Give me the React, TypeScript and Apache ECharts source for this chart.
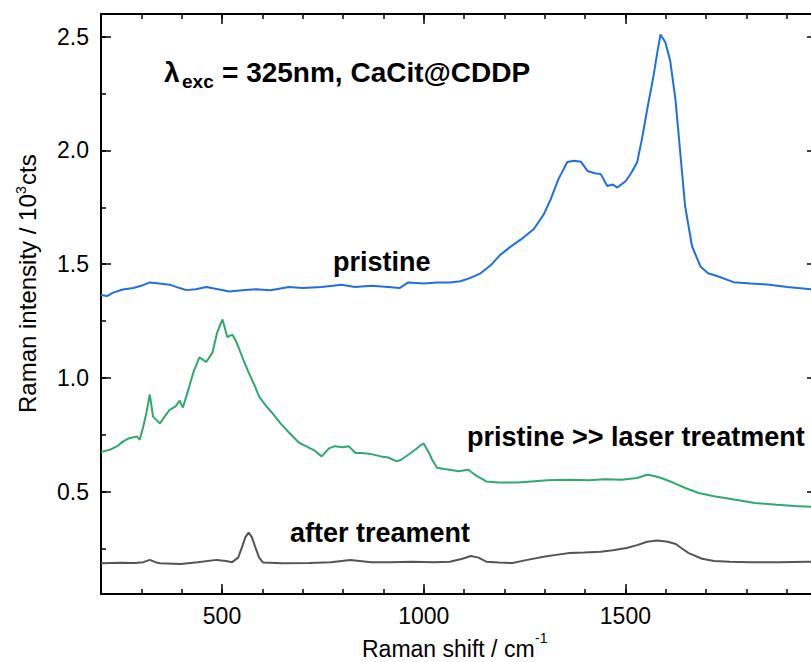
import React, { useEffect, useRef } from 'react';
import * as echarts from 'echarts';

// ---------- data ----------
const pristineX = [200, 215, 230, 254, 280, 300, 321, 345, 370, 395, 412, 435, 461, 490, 518, 550, 584, 620, 666, 700, 747, 775, 796, 830, 870, 912, 940, 962, 1000, 1033, 1065, 1091, 1116, 1141, 1166, 1189, 1214, 1242, 1273, 1298, 1315, 1334, 1356, 1373, 1390, 1406, 1424, 1439, 1455, 1469, 1480, 1501, 1514, 1529, 1541, 1554, 1570, 1579, 1587, 1599, 1611, 1624, 1636, 1648, 1665, 1686, 1705, 1727, 1768, 1811, 1852, 1901, 1962, 1975];
const pristineY = [1.365, 1.36, 1.375, 1.389, 1.395, 1.405, 1.42, 1.415, 1.41, 1.395, 1.386, 1.39, 1.4, 1.39, 1.38, 1.385, 1.39, 1.385, 1.4, 1.395, 1.4, 1.405, 1.41, 1.4, 1.405, 1.4, 1.395, 1.42, 1.415, 1.42, 1.42, 1.425, 1.44, 1.46, 1.495, 1.54, 1.575, 1.61, 1.655, 1.72, 1.786, 1.874, 1.949, 1.955, 1.95, 1.91, 1.9, 1.896, 1.844, 1.85, 1.837, 1.866, 1.9, 1.947, 2.05, 2.18, 2.33, 2.43, 2.51, 2.476, 2.395, 2.226, 1.99, 1.756, 1.58, 1.49, 1.46, 1.448, 1.421, 1.415, 1.411, 1.4, 1.39, 1.388];

const laserX = [200, 205, 222, 240, 254, 270, 289, 296, 304, 313, 321, 329, 346, 360, 370, 385, 395, 403, 419, 430, 444, 461, 476, 488, 501, 507, 513, 526, 535, 543, 555, 567, 580, 592, 610, 624, 645, 666, 691, 708, 730, 747, 765, 780, 800, 814, 831, 846, 870, 894, 912, 933, 944, 960, 979, 994, 1000, 1016, 1021, 1033, 1050, 1065, 1086, 1111, 1126, 1155, 1186, 1233, 1267, 1307, 1362, 1408, 1448, 1491, 1529, 1554, 1569, 1589, 1618, 1650, 1682, 1720, 1773, 1821, 1875, 1921, 1962, 1975];
const laserY = [0.675, 0.677, 0.684, 0.7, 0.72, 0.735, 0.743, 0.728, 0.78, 0.85, 0.927, 0.83, 0.8, 0.835, 0.86, 0.875, 0.9, 0.87, 0.963, 1.03, 1.09, 1.07, 1.11, 1.2, 1.257, 1.22, 1.18, 1.19, 1.16, 1.125, 1.07, 1.02, 0.97, 0.918, 0.875, 0.847, 0.8, 0.76, 0.715, 0.7, 0.68, 0.655, 0.69, 0.7, 0.695, 0.7, 0.67, 0.67, 0.665, 0.655, 0.65, 0.633, 0.64, 0.66, 0.684, 0.706, 0.712, 0.66, 0.64, 0.605, 0.6, 0.596, 0.59, 0.596, 0.575, 0.545, 0.54, 0.54, 0.545, 0.55, 0.552, 0.55, 0.555, 0.552, 0.56, 0.574, 0.57, 0.56, 0.54, 0.515, 0.494, 0.48, 0.464, 0.45, 0.442, 0.437, 0.433, 0.432];

const afterX = [200, 250, 283, 305, 321, 335, 346, 397, 440, 486, 510, 525, 540, 550, 558, 566, 574, 582, 592, 602, 650, 716, 770, 818, 870, 920, 971, 1025, 1065, 1096, 1117, 1136, 1155, 1186, 1220, 1257, 1297, 1328, 1362, 1398, 1439, 1469, 1503, 1529, 1554, 1579, 1605, 1625, 1640, 1657, 1690, 1720, 1759, 1811, 1881, 1952, 1975];
const afterY = [0.185, 0.187, 0.186, 0.19, 0.2, 0.19, 0.185, 0.182, 0.19, 0.2, 0.195, 0.19, 0.21, 0.258, 0.3, 0.32, 0.3, 0.258, 0.21, 0.188, 0.185, 0.186, 0.19, 0.2, 0.19, 0.19, 0.192, 0.19, 0.192, 0.205, 0.217, 0.21, 0.192, 0.188, 0.186, 0.2, 0.214, 0.222, 0.23, 0.232, 0.236, 0.242, 0.252, 0.265, 0.28, 0.285, 0.28, 0.27, 0.25, 0.23, 0.205, 0.195, 0.192, 0.19, 0.19, 0.192, 0.19];

const xLabelValues = [500, 1000, 1500];
const yLabelValues = [0.5, 1.0, 1.5, 2.0, 2.5];
const xMajorStep = 500;
const xMinorStep = 100;
const yMajorStep = 0.5;
const yMinorStep = 0.25;

const seriesNames = ['pristine', 'pristine >> laser treatment', 'after treament'];
const seriesColors = ['#1f6fe3', '#2eaa6c', '#555555'];

const X_MIN = 200;
const X_MAX = 1975;
const Y_MIN = 0.05;
const Y_MAX = 2.6;
const MAJOR_LEN = 10;
const MINOR_LEN = 5;

const FONT = 'Liberation Sans, Arial, Helvetica, sans-serif';

function zip(xs: number[], ys: number[]) {
  return xs.map((x, i) => [x, ys[i]]);
}

// axis carrying the frame line (and, optionally, the labels)
function frameAxis(kind: 'x' | 'y', position: string, labels: number[] | null) {
  return {
    type: 'value',
    position,
    min: kind === 'x' ? X_MIN : Y_MIN,
    max: kind === 'x' ? X_MAX : Y_MAX,
    axisLine: { show: true, onZero: false, lineStyle: { color: '#000', width: 2 } },
    axisTick: { show: false },
    axisLabel: labels
      ? {
          show: true,
          customValues: labels,
          fontSize: 23,
          color: '#000',
          margin: kind === 'x' ? 10 : 12,
          fontFamily: FONT,
          formatter: (v: number) => (kind === 'x' ? String(v) : v.toFixed(1)),
        }
      : { show: false },
    splitLine: { show: false },
  };
}

// invisible axis that only draws tick marks, at multiples of step
function tickAxis(kind: 'x' | 'y', position: string, step: number, len: number) {
  const min = kind === 'x' ? X_MIN : Y_MIN;
  const max = kind === 'x' ? X_MAX : Y_MAX;
  return {
    type: 'value',
    position,
    min,
    max,
    minInterval: step,
    maxInterval: step,
    splitNumber: Math.round((max - min) / step),
    axisLine: { show: false, onZero: false },
    axisTick: { show: true, inside: true, length: len, lineStyle: { color: '#000', width: 1.5 } },
    axisLabel: { show: false },
    splitLine: { show: false },
  };
}

function txt(text: string, x: number, y: number, size: number, bold: boolean, rotation = 0) {
  return {
    type: 'text',
    x,
    y,
    rotation,
    style: {
      text,
      fill: '#000',
      font: `${bold ? 'bold ' : ''}${size}px ${FONT}`,
      align: 'left',
      verticalAlign: 'middle',
    },
  };
}

function makeTexts() {
  return [
    txt('λ', 164, 72, 28, true),
    txt('exc', 182, 81, 19, true),
    txt('= 325nm, CaCit@CDDP', 222, 72, 28, true),
    txt(seriesNames[0], 333, 262, 27, true),
    txt(seriesNames[1], 467, 437, 27, true),
    txt(seriesNames[2], 290, 533, 27, true),
    txt('Raman shift / cm', 362, 649, 23, false),
    txt('-1', 535, 638, 14, false),
    txt('Raman intensity / 10', 27, 413, 24, false, Math.PI / 2),
    txt('3', 21, 194, 14, false, Math.PI / 2),
    txt('cts', 27, 185, 24, false, Math.PI / 2),
  ];
}

export default function App() {
  const ref = useRef<HTMLDivElement>(null);
  useEffect(() => {
    if (!ref.current) return;
    const chart = echarts.init(ref.current, undefined, { renderer: 'svg' });
    const datasets = [zip(pristineX, pristineY), zip(laserX, laserY), zip(afterX, afterY)];
    chart.setOption({
      animation: false,
      backgroundColor: '#fff',
      grid: { left: 101, right: -6, top: 14, bottom: 68, outerBoundsMode: 'none' },
      xAxis: [
        frameAxis('x', 'bottom', xLabelValues),
        frameAxis('x', 'top', null),
        tickAxis('x', 'bottom', xMajorStep, MAJOR_LEN),
        tickAxis('x', 'bottom', xMinorStep, MINOR_LEN),
        tickAxis('x', 'top', xMajorStep, MAJOR_LEN),
        tickAxis('x', 'top', xMinorStep, MINOR_LEN),
      ],
      yAxis: [
        frameAxis('y', 'left', yLabelValues),
        frameAxis('y', 'right', null),
        tickAxis('y', 'left', yMajorStep, MAJOR_LEN),
        tickAxis('y', 'left', yMinorStep, MINOR_LEN),
        tickAxis('y', 'right', yMajorStep, MAJOR_LEN),
        tickAxis('y', 'right', yMinorStep, MINOR_LEN),
      ],
      series: datasets.map((d, i) => ({
        type: 'line',
        name: seriesNames[i],
        data: d,
        xAxisIndex: 0,
        yAxisIndex: 0,
        showSymbol: false,
        symbol: 'none',
        lineStyle: { color: seriesColors[i], width: 2 },
        itemStyle: { color: seriesColors[i] },
        z: 3 - i,
      })),
      graphic: { elements: makeTexts() },
    });
    return () => chart.dispose();
  }, []);
  return <div ref={ref} style={{ position: 'absolute', left: 0, top: 0, width: 811, height: 662 }} />;
}
